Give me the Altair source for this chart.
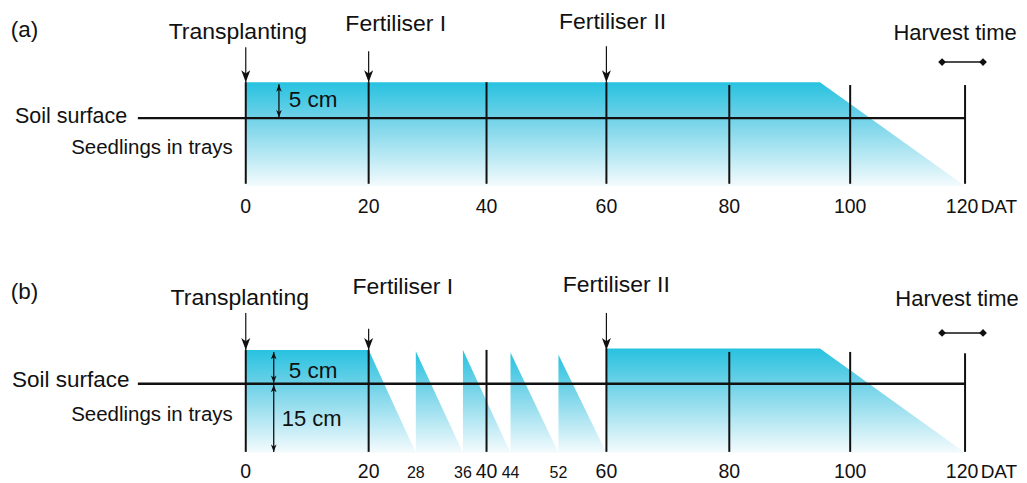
import altair as alt
import pandas as pd

# ---------------- data ----------------
TICKS = [0, 20, 40, 60, 80, 100, 120]          # main DAT ticks
AWD_TICKS = [28, 36, 44, 52]                   # re-flooding days in (b)

# (a) continuous flooding: water level (cm, relative to soil surface)
A_SEG = [0, 0, 0]
A_DAY = [0, 95, 120]
A_LEVEL = [5, 5, -15]

# (b) alternate wetting and drying
B_SEG = [0, 0, 0, 1, 1, 2, 2, 3, 3, 4, 4, 5, 5, 5]
B_DAY = [0, 20, 28, 28, 36, 36, 44, 44, 52, 52, 60, 60, 95, 120]
B_LEVEL = [5, 5, -15, 4.8, -15, 5.0, -15, 4.6, -15, 4.3, -15, 5.2, 5.2, -15]

FLOOR = -15
EVENTS = ["Transplanting", "Fertiliser I", "Fertiliser II"]
EVENT_DAY = [0, 20, 60]
HARVEST = [116, 123]

A_LINE_TOP = [5, 5, 5, 5, 4.6, 4.6, 4.6]
B_LINE_TOP = [5, 5, 5, 5.2, 4.7, 4.7, 4.5]

# ---------------- layout ----------------
W = 1011
# the hand-drawn day axis is slightly uneven: piecewise mapping through the ticks
X_DOMAIN = [-39.667, 0, 20, 40, 60, 80, 100, 120, 128.833]
X_RANGE = [0, 238, 361, 479, 599, 722, 843, 958, 1011]
FONT = "Liberation Sans"
INK = "#111111"

DOWN = "M0,1 L-0.75,-1 L0,-0.45 L0.75,-1 Z"
UP = "M0,-1 L-0.75,1 L0,0.45 L0.75,1 Z"

GRAD = alt.LinearGradient(
    gradient="linear", x1=0, y1=0, x2=0, y2=1,
    stops=[alt.GradientStop(offset=0, color="#27C2E0"),
           alt.GradientStop(offset=0.35, color="#70D2E8"),
           alt.GradientStop(offset=1, color="#F4FBFD")])

PANELS = {
    "a": dict(seg=A_SEG, day=A_DAY, level=A_LEVEL, line_top=A_LINE_TOP, line_bottom=-14.5,
              yrange=[178, 110, 74], height=232,
              tag=(-39.2, 11.25), ev_x=[-1.33, 24.6, 61.0], ev_y=[10.97, 12.08, 12.36],
              ev_top=[9.86, 9.3, 10.0],
              harvest_y=7.8, harvest_text=(118.26, 10.9),
              soil=(-38.5, -1.1, 21.5), seed=(-2.17, -7.94),
              arrows=[(5.4, 4.7, 0.1, "5 cm", 7.0, 1.53)],
              tick_y=-20.96, awd=False),
    "b": dict(seg=B_SEG, day=B_DAY, level=B_LEVEL, line_top=B_LINE_TOP, line_bottom=-14.8,
              yrange=[213, 144, 110], height=243,
              tag=(-39.2, 12.5), ev_x=[-1.0, 25.8, 61.6], ev_y=[11.6, 13.2, 13.5],
              ev_top=[10.44, 8.1, 10.44],
              harvest_y=7.5, harvest_text=(118.6, 11.5),
              soil=(-39.0, -0.6, 22.5), seed=(-2.17, -8.0),
              arrows=[(4.55, 4.7, 0.15, "5 cm", 7.0, 0.93),
                      (4.55, -0.2, -14.8, "15 cm", 5.85, -9.1)],
              tick_y=-20.55, awd=True),
}


def panel(tag, P):
    xs = alt.Scale(domain=X_DOMAIN, range=X_RANGE, nice=False, zero=False)
    ys = alt.Scale(domain=[FLOOR, 0, 5], range=P["yrange"], nice=False, zero=False)

    def X(f):
        return alt.X(f, type="quantitative", scale=xs, axis=None)

    def Y(f):
        return alt.Y(f, type="quantitative", scale=ys, axis=None, stack=None)

    def txt(df, **kw):
        base = dict(font=FONT, color=INK, baseline="alphabetic")
        base.update(kw)
        return alt.Chart(df).mark_text(**base).encode(x=X("x"), y=Y("y"), text="t:N")

    layers = []
    # water profile (gradient area)
    area_df = pd.DataFrame({"seg": P["seg"], "day": P["day"], "level": P["level"]})
    area_df["base"] = FLOOR
    layers.append(alt.Chart(area_df).mark_area(color=GRAD, opacity=1)
                  .encode(x=X("day"), y=Y("level"), y2=alt.Y2("base"), detail="seg:N"))
    # soil surface line
    soil_df = pd.DataFrame({"x0": [-18.0], "x1": [120], "y": [0]})
    layers.append(alt.Chart(soil_df).mark_rule(color=INK, strokeWidth=2.5)
                  .encode(x=X("x0"), x2="x1", y=Y("y")))
    # vertical day lines
    vl_df = pd.DataFrame({"day": TICKS, "top": P["line_top"]})
    vl_df["bottom"] = P["line_bottom"]
    layers.append(alt.Chart(vl_df).mark_rule(color=INK, strokeWidth=2)
                  .encode(x=X("day"), y=Y("top"), y2="bottom"))
    # event arrows
    ev_df = pd.DataFrame({"day": EVENT_DAY, "top": P["ev_top"], "tip": [5] * 3})
    layers.append(alt.Chart(ev_df).mark_rule(color=INK, strokeWidth=1.2)
                  .encode(x=X("day"), y=Y("top"), y2="tip"))
    layers.append(alt.Chart(ev_df).mark_point(shape=DOWN, filled=True, size=144, yOffset=-6,
                                              color=INK, opacity=1)
                  .encode(x=X("day"), y=Y("tip")))
    # event labels
    for t, x, y in zip(EVENTS, P["ev_x"], P["ev_y"]):
        layers.append(txt(pd.DataFrame({"x": [x], "y": [y], "t": [t]}), align="center", fontSize=23))
    # panel tag
    tx, ty = P["tag"]
    layers.append(txt(pd.DataFrame({"x": [tx], "y": [ty], "t": [f"({tag})"]}),
                      align="left", fontSize=22.5))
    # harvest window
    hv_df = pd.DataFrame({"x0": [HARVEST[0]], "x1": [HARVEST[1]], "y": [P["harvest_y"]]})
    layers.append(alt.Chart(hv_df).mark_rule(color=INK, strokeWidth=1.5)
                  .encode(x=X("x0"), x2="x1", y=Y("y")))
    hp_df = pd.DataFrame({"x": HARVEST, "y": [P["harvest_y"]] * 2})
    layers.append(alt.Chart(hp_df).mark_point(shape="diamond", filled=True, size=60, color=INK, opacity=1)
                  .encode(x=X("x"), y=Y("y")))
    hx, hy = P["harvest_text"]
    layers.append(txt(pd.DataFrame({"x": [hx], "y": [hy], "t": ["Harvest time"]}),
                      align="center", fontSize=22))
    # soil surface / seedlings text
    sx, sy, sf = P["soil"]
    layers.append(txt(pd.DataFrame({"x": [sx], "y": [sy], "t": ["Soil surface"]}), align="left", fontSize=sf))
    dx, dy = P["seed"]
    layers.append(txt(pd.DataFrame({"x": [dx], "y": [dy], "t": ["Seedlings in trays"]}),
                      align="right", fontSize=20.5))
    # depth arrows
    for ax, ytop, ybot, lab, lx, ly in P["arrows"]:
        d = pd.DataFrame({"x": [ax], "top": [ytop], "bot": [ybot]})
        layers.append(alt.Chart(d).mark_rule(color=INK, strokeWidth=1.3)
                      .encode(x=X("x"), y=Y("top"), y2="bot"))
        layers.append(alt.Chart(d).mark_point(shape=UP, filled=True, size=56, yOffset=3.7,
                                              color=INK, opacity=1)
                      .encode(x=X("x"), y=Y("top")))
        layers.append(alt.Chart(d).mark_point(shape=DOWN, filled=True, size=56, yOffset=-3.7,
                                              color=INK, opacity=1)
                      .encode(x=X("x"), y=Y("bot")))
        layers.append(txt(pd.DataFrame({"x": [lx], "y": [ly], "t": [lab]}), align="left",
                          fontSize=22.5 if lab == "5 cm" else 22))
    # tick labels (the last one sits a little left, before "DAT")
    tk = pd.DataFrame({"x": TICKS, "y": [P["tick_y"]] * len(TICKS), "t": [str(v) for v in TICKS]})
    layers.append(txt(tk.iloc[:-1], align="center", fontSize=19.5))
    layers.append(txt(tk.iloc[-1:], align="center", fontSize=19.5, dx=-3))
    layers.append(txt(pd.DataFrame({"x": [122.6], "y": [P["tick_y"]], "t": ["DAT"]}),
                      align="left", fontSize=19))
    if P["awd"]:
        ak = pd.DataFrame({"x": AWD_TICKS, "y": [P["tick_y"]] * len(AWD_TICKS),
                           "t": [str(v) for v in AWD_TICKS]})
        layers.append(txt(ak, align="center", fontSize=16))

    return alt.layer(*layers).properties(width=W, height=P["height"])


chart = alt.vconcat(panel("a", PANELS["a"]), panel("b", PANELS["b"]),
                    spacing=0, bounds="flush").properties(padding=0).configure(
    background="white", view=alt.ViewConfig(stroke=None))

chart.save("out.html", embed_options={"renderer": "svg", "actions": False})
